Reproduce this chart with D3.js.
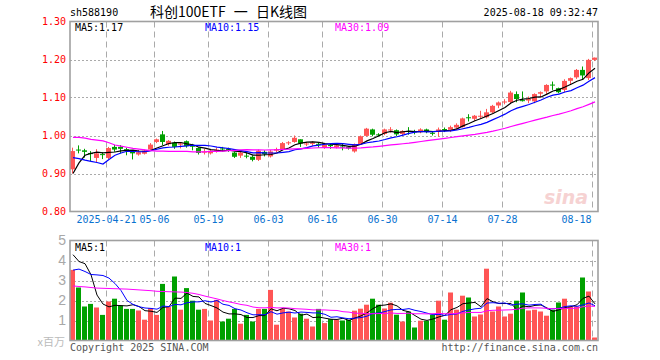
<!DOCTYPE html>
<html><head><meta charset="utf-8">
<script src="https://cdn.jsdelivr.net/npm/d3@7/dist/d3.min.js"></script>
<style>
html,body{margin:0;padding:0;background:#fff;}
svg{display:block;}
.mono{font-family:"DejaVu Sans Mono","Liberation Mono",monospace;font-size:10px;}
</style></head>
<body>
<svg id="c" width="660" height="360"></svg>
<script>
// ---------------- data ----------------
const dates = [
"04-11","04-14","04-15","04-16","04-17","04-18","04-21","04-22","04-23","04-24","04-25","04-28","04-29","04-30",
"05-06","05-07","05-08","05-09","05-12","05-13","05-14","05-15","05-16","05-19","05-20","05-21","05-22","05-23","05-26","05-27","05-28","05-29","05-30",
"06-03","06-04","06-05","06-06","06-09","06-10","06-11","06-12","06-13","06-16","06-17","06-18","06-19","06-20","06-23","06-24","06-25","06-26","06-27","06-30",
"07-01","07-02","07-03","07-04","07-07","07-08","07-09","07-10","07-11","07-14","07-15","07-16","07-17","07-18","07-21","07-22","07-23","07-24","07-25","07-28","07-29","07-30","07-31",
"08-01","08-04","08-05","08-06","08-07","08-08","08-11","08-12","08-13","08-14","08-15","08-18"];

const open = [
0.911,0.963,0.961,0.954,0.941,0.951,0.941,0.970,0.970,0.964,
0.958,0.950,0.952,0.963,0.983,1.003,0.977,0.981,0.976,0.985,
0.973,0.967,0.955,0.953,0.960,0.966,0.965,0.955,0.947,0.947,
0.944,0.936,0.957,0.945,0.960,0.963,0.980,0.983,0.990,0.977,
0.978,0.978,0.968,0.975,0.969,0.971,0.970,0.958,0.977,0.999,
1.016,1.003,1.004,1.014,1.014,1.004,1.012,1.011,1.009,1.016,
1.007,1.010,1.017,1.015,1.021,1.022,1.048,1.044,1.050,1.048,
1.061,1.079,1.088,1.088,1.109,1.093,1.092,1.090,1.110,1.116,
1.134,1.1245,1.120,1.144,1.153,1.1726,1.151,1.199];
const high = [
0.968,0.974,0.965,0.959,0.964,0.956,0.970,0.975,0.975,0.968,
0.961,0.962,0.963,0.980,0.992,1.012,0.988,0.984,0.981,0.987,
0.978,0.969,0.965,0.964,0.968,0.970,0.968,0.957,0.957,0.955,
0.948,0.963,0.961,0.962,0.968,0.983,0.985,1.000,0.990,0.983,
0.985,0.981,0.979,0.978,0.978,0.980,0.972,0.979,1.000,1.020,
1.018,1.006,1.018,1.022,1.016,1.014,1.022,1.015,1.019,1.018,
1.0105,1.021,1.021,1.026,1.032,1.047,1.056,1.054,1.065,1.070,
1.0806,1.0895,1.0955,1.1175,1.116,1.116,1.1026,1.111,1.116,1.135,
1.142,1.126,1.148,1.1526,1.175,1.1816,1.2016,1.205];
const low = [
0.900,0.953,0.942,0.933,0.930,0.938,0.938,0.957,0.953,0.948,
0.937,0.947,0.950,0.960,0.980,0.975,0.973,0.965,0.966,0.968,
0.961,0.950,0.950,0.950,0.955,0.958,0.957,0.941,0.941,0.940,
0.932,0.933,0.945,0.942,0.955,0.961,0.975,0.981,0.970,0.972,
0.973,0.968,0.965,0.965,0.966,0.961,0.963,0.955,0.975,0.997,
0.998,0.998,1.001,1.008,0.998,1.001,1.002,1.003,1.006,1.006,
1.000,0.997,1.009,1.009,1.015,1.021,1.037,1.0385,1.044,1.045,
1.058,1.072,1.082,1.085,1.0876,1.0895,1.085,1.085,1.100,1.107,
1.120,1.111,1.114,1.133,1.149,1.146,1.146,1.196];
const close = [
0.959,0.962,0.957,0.951,0.953,0.949,0.967,0.963,0.965,0.959,
0.953,0.956,0.960,0.976,0.990,0.983,0.986,0.970,0.979,0.972,
0.971,0.954,0.958,0.960,0.963,0.964,0.963,0.944,0.955,0.945,
0.936,0.960,0.951,0.958,0.964,0.980,0.982,0.994,0.979,0.979,
0.981,0.977,0.976,0.972,0.974,0.970,0.966,0.977,0.998,1.018,
1.002,1.002,1.016,1.016,1.003,1.012,1.011,1.009,1.016,1.009,
1.006,1.016,1.016,1.022,1.028,1.045,1.047,1.052,1.052,1.061,
1.078,1.087,1.0895,1.113,1.096,1.092,1.096,1.109,1.114,1.133,
1.133,1.114,1.1437,1.151,1.1726,1.158,1.199,1.205];
// volume, millions
const volume = [
3.53,2.65,1.70,1.83,1.65,1.28,1.95,2.09,1.75,1.58,
1.58,1.50,1.04,1.62,1.28,2.83,1.67,3.20,1.54,2.62,
1.99,1.54,1.58,1.00,2.03,0.95,1.09,1.58,0.84,1.28,
0.95,1.58,1.58,2.53,0.79,1.58,1.45,1.15,1.34,1.09,
0.70,1.58,0.87,1.07,1.04,1.00,1.03,1.49,1.59,1.79,
2.09,1.79,1.60,1.89,1.29,0.95,1.45,0.65,0.99,0.99,
1.29,1.99,1.04,2.40,1.54,2.24,2.15,1.20,1.30,3.59,
1.45,1.70,1.20,1.34,1.99,2.40,1.50,1.54,1.45,1.24,
1.54,1.90,2.09,1.70,1.70,3.15,2.45,0.15];

// moving-average values at the start of the window (earlier days are off-chart)
const ma5Head  = [0.900,0.928,0.948,0.953];
const ma10Head = [0.942,0.939,0.935,0.932,0.929,0.925,0.937,0.948,0.954];
const ma30Head = [0.995,0.995,0.993,0.990,0.988,0.986,0.981,0.975,0.972,0.969,0.966,0.964,0.962,0.960,0.959,0.959,0.958,0.958,0.958,0.958,0.957,0.957,0.957,0.958,0.958,0.959,0.960,0.961,0.962];
const vma5Head  = [4.29,3.95,3.84,3.29];
const vma10Head = [3.52,3.57,3.45,3.30,3.28,3.25,3.12,2.85,2.50];
const vma30Head = [2.73,2.70,2.68,2.65,2.62,2.61,2.60,2.59,2.58,2.57,2.55,2.53,2.51,2.49,2.46,2.45,2.44,2.43,2.42,2.40,2.36,2.30,2.22,2.15,2.08,2.00,1.93,1.87,1.80];

const tickDates  = ["04-21","05-06","05-19","06-03","06-16","06-30","07-14","07-28","08-18"];
const tickLabels = ["2025-04-21","05-06","05-19","06-03","06-16","06-30","07-14","07-28","08-18"];
const priceTicks = [0.80,0.90,1.00,1.10,1.20,1.30];
const volTicks = [1,2,3,4,5];

const symbol = "sh588190";
const title = "科创100ETF 一 日K线图";
const stamp = "2025-08-18 09:32:47";
const maLabels = ["MA5:1.17","MA10:1.15","MA30:1.09"];
const vmaLabels = ["MA5:1","MA10:1","MA30:1"];

// --------------- helpers ---------------
function movingAvg(vals, n, head){
  return vals.map((v,i)=>{
    if(i < n-1) return head[i];
    let s=0; for(let k=i-n+1;k<=i;k++) s+=vals[k];
    return s/n;
  });
}
const ma5 = movingAvg(close,5,ma5Head), ma10 = movingAvg(close,10,ma10Head), ma30 = movingAvg(close,30,ma30Head);
const vma5 = movingAvg(volume,5,vma5Head), vma10 = movingAvg(volume,10,vma10Head), vma30 = movingAvg(volume,30,vma30Head);

const RED="#ff5555", GREEN="#00a000", GRID="#aaaaaa", FRAME="#a0a0a0";
const maColors = ["#000000","#0000ff","#ff00ff"];

const svg = d3.select("#c");
const L=70, R=598, T=21.5, B=211.5, VT=240.5, VB=340.5;
const n = dates.length;
const xi = d3.scaleLinear().domain([0,n]).range([L,R]);
const y = d3.scaleLinear().domain([0.8,1.3]).range([B,T]);
const yv = d3.scaleLinear().domain([0,5]).range([VB,VT]);
const tickIdx = tickDates.map(d=>dates.indexOf(d));

// header
svg.append("text").attr("class","mono").attr("x",70).attr("y",16).text(symbol);
svg.append("text").attr("x",150).attr("y",17).attr("font-family","Noto Sans CJK SC").attr("font-size",14)
  .attr("word-spacing",5).text(title);
svg.append("text").attr("class","mono").attr("x",598).attr("y",16).attr("text-anchor","end").text(stamp);

// clip paths
svg.append("clipPath").attr("id","cm").append("rect").attr("x",L).attr("y",T).attr("width",R-L).attr("height",B-T);
svg.append("clipPath").attr("id","cv").append("rect").attr("x",L).attr("y",VT).attr("width",R-L).attr("height",VB-VT);

function panelGrid(yScale, vals, top, bottom){
  const g = svg.append("g");
  g.selectAll("line.h").data(vals).join("line")
    .attr("x1",L).attr("x2",R).attr("y1",d=>Math.round(yScale(d))+0.5).attr("y2",d=>Math.round(yScale(d))+0.5)
    .attr("stroke",GRID).attr("stroke-dasharray","2,2");
  g.selectAll("line.v").data(tickIdx).join("line")
    .attr("x1",d=>Math.round(xi(d))+0.5).attr("x2",d=>Math.round(xi(d))+0.5)
    .attr("y1",top).attr("y2",bottom)
    .attr("stroke",GRID).attr("stroke-dasharray","6,4");
}
panelGrid(y,[0.9,1.0,1.1,1.2],T,B);
panelGrid(yv,[1,2,3,4],VT,VB);

// watermark
svg.append("text").attr("x",566).attr("y",204).attr("text-anchor","middle")
  .attr("font-family","DejaVu Sans").attr("font-style","italic").attr("font-weight","bold")
  .attr("font-size",19).attr("fill","#f6d2d2").text("sina");

// candles
const idx = d3.range(n);
const isUp = i => close[i] >= open[i];
const gm = svg.append("g").attr("clip-path","url(#cm)");
gm.selectAll("rect.w").data(idx).join("rect")
  .attr("x",i=>xi(i)+2).attr("width",1)
  .attr("y",i=>y(high[i])).attr("height",i=>Math.max(1,y(low[i])-y(high[i])))
  .attr("fill",i=>isUp(i)?RED:GREEN);
gm.selectAll("rect.b").data(idx).join("rect")
  .attr("x",i=>xi(i)).attr("width",5)
  .attr("y",i=>y(Math.max(open[i],close[i])))
  .attr("height",i=>Math.max(1,Math.abs(y(open[i])-y(close[i]))))
  .attr("fill",i=>isUp(i)?RED:GREEN);
const line = d3.line().x((d,i)=>xi(i+0.5)).y(d=>y(d));
[ma5,ma10,ma30].forEach((s,k)=>{
  gm.append("path").attr("d",line(s)).attr("fill","none").attr("stroke",maColors[k]).attr("stroke-width",1.2);
});

// volume
const gv = svg.append("g").attr("clip-path","url(#cv)");
gv.selectAll("rect.v").data(idx).join("rect")
  .attr("x",i=>xi(i)).attr("width",5)
  .attr("y",i=>yv(volume[i])).attr("height",i=>VB-yv(volume[i]))
  .attr("fill",i=>isUp(i)?RED:GREEN);
const vline = d3.line().x((d,i)=>xi(i+0.5)).y(d=>yv(d));
[vma5,vma10,vma30].forEach((s,k)=>{
  gv.append("path").attr("d",vline(s)).attr("fill","none").attr("stroke",maColors[k]).attr("stroke-width",1);
});

// frames
svg.append("rect").attr("x",L).attr("y",T).attr("width",R-L).attr("height",B-T).attr("fill","none").attr("stroke",FRAME).attr("stroke-width",1.6);
svg.append("rect").attr("x",L).attr("y",VT).attr("width",R-L).attr("height",VB-VT).attr("fill","none").attr("stroke",FRAME).attr("stroke-width",1.6);

// legends
const legX = [75,205,335];
maLabels.forEach((t,k)=>svg.append("text").attr("class","mono").attr("x",legX[k]).attr("y",31).attr("fill",maColors[k]).text(t));
vmaLabels.forEach((t,k)=>svg.append("text").attr("class","mono").attr("x",legX[k]).attr("y",251).attr("fill",maColors[k]).text(t));

// axes
const ax = svg.append("g").attr("transform",`translate(0,${B})`)
  .call(d3.axisBottom(xi).tickValues(tickIdx).tickSize(0).tickPadding(4).tickFormat((d,i)=>tickLabels[i]));
ax.select(".domain").remove();
ax.selectAll("text").attr("class","mono").attr("fill","#0a72d0").attr("font-size",null).attr("font-family",null);
ax.selectAll("text").filter((d,i,nodes)=>i===nodes.length-1).attr("text-anchor","end").attr("dx",-1);

const ay = svg.append("g").attr("transform",`translate(${L},0)`)
  .call(d3.axisLeft(y).tickValues(priceTicks).tickSize(0).tickPadding(4).tickFormat(d3.format(".2f")));
ay.select(".domain").remove();
ay.selectAll("text").attr("class","mono").attr("fill","#ff0000").attr("font-size",null).attr("font-family",null);

const ayv = svg.append("g").attr("transform",`translate(${L},0)`)
  .call(d3.axisLeft(yv).tickValues(volTicks).tickSize(0).tickPadding(4).tickFormat(d3.format("d")));
ayv.select(".domain").remove();
ayv.selectAll("text").attr("fill","#a8a8a8").attr("font-size",14).attr("font-family","Liberation Sans");

svg.append("text").attr("x",65).attr("y",346).attr("text-anchor","end").attr("fill","#bbbbbb")
  .attr("font-family","Noto Sans CJK SC").attr("font-size",11).text("x百万");

svg.append("text").attr("class","mono").attr("x",70).attr("y",351).attr("fill","#555").text("Copyright 2025 SINA.COM");
svg.append("text").attr("class","mono").attr("x",598).attr("y",351).attr("text-anchor","end").attr("fill","#555").text("http://finance.sina.com.cn");
</script>
</body></html>
